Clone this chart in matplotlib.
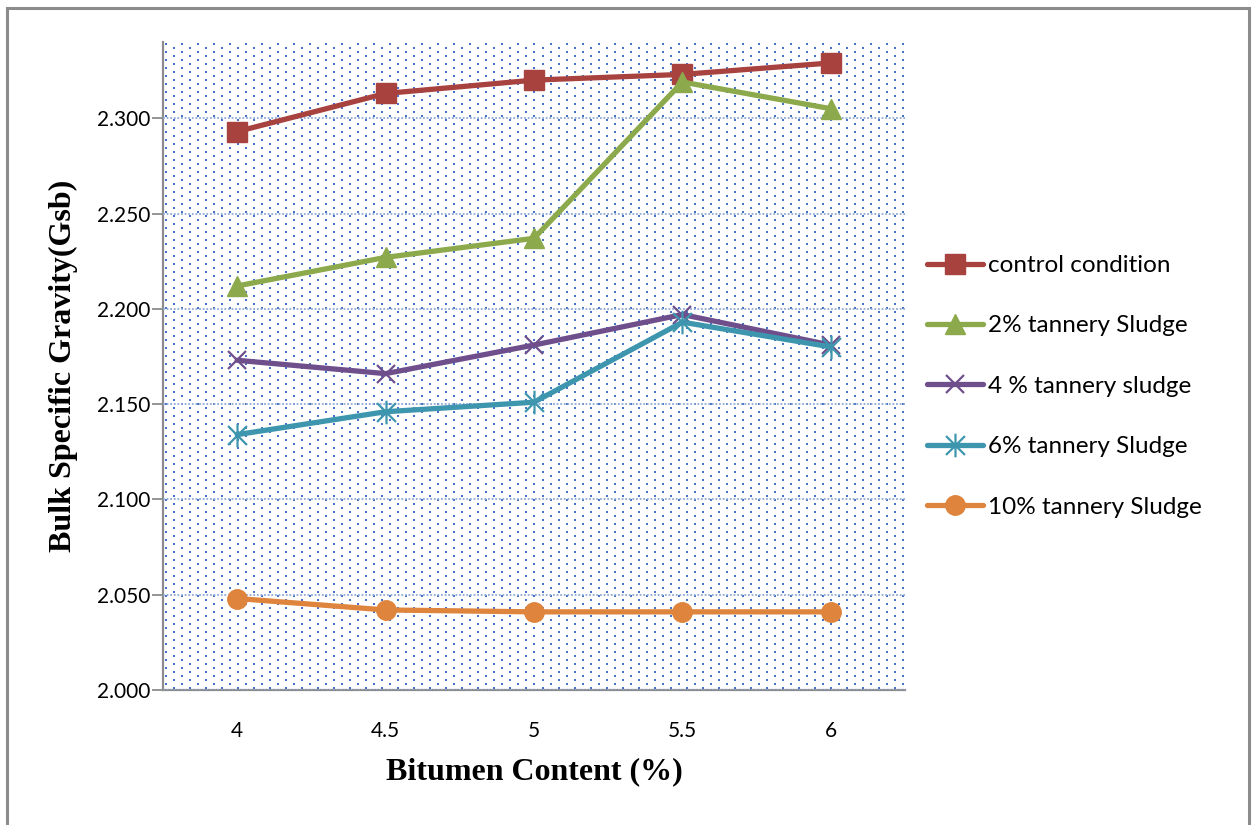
import numpy as np
import matplotlib
matplotlib.use("Agg")
import matplotlib.pyplot as plt
from matplotlib.path import Path
from matplotlib.patches import Rectangle
from matplotlib.ticker import FormatStrFormatter

# Bitumen content categories (%)
bitumen = ["4", "4.5", "5", "5.5", "6"]

# Bulk specific gravity per mix
control = [2.293, 2.313, 2.320, 2.323, 2.329]
sludge_2 = [2.212, 2.227, 2.237, 2.319, 2.305]
sludge_4 = [2.173, 2.166, 2.181, 2.197, 2.181]
sludge_6 = [2.134, 2.146, 2.151, 2.193, 2.180]
sludge_10 = [2.048, 2.042, 2.041, 2.041, 2.041]

series_labels = ["control condition", "2% tannery Sludge", "4 % tannery sludge",
                 "6% tannery Sludge", "10% tannery Sludge"]

W, H, DPI = 1254, 825, 100
fig = plt.figure(figsize=(W / DPI, H / DPI), dpi=DPI)

# outer chart border
fig.patches.append(Rectangle((7 / W, -0.01), (1249 - 7) / W, (H - 8) / H + 0.01,
                             transform=fig.transFigure, fill=False,
                             edgecolor="#8c8c8c", linewidth=2.2))

ax_l, ax_r, ax_t, ax_b = 163, 905, 42, 690
ax = fig.add_axes([ax_l / W, (H - ax_b) / H, (ax_r - ax_l) / W, (ax_b - ax_t) / H])

x = np.arange(len(bitumen))
ymin, ymax = 2.0, 2.34
ax.set_xlim(-0.5, len(bitumen) - 0.5)
ax.set_ylim(ymin, ymax)

# dotted fill pattern of the plot area (10% dot pattern, doubled)
pw, ph = ax_r - ax_l, ax_b - ax_t
pattern = np.ones((ph, pw, 3))
dot = np.array([0x44, 0x72, 0xC4]) / 255.0
for k, r in enumerate(range(1, ph, 4)):
    off = 2 if k % 2 == 0 else 10
    for c in range(off, pw, 16):
        pattern[r:r + 2, c:c + 2] = dot
ax.imshow(pattern, extent=[-0.5, len(bitumen) - 0.5, ymin, ymax],
          aspect="auto", interpolation="nearest", zorder=0)

ax.yaxis.set_major_locator(plt.MultipleLocator(0.05))
ax.yaxis.set_major_formatter(FormatStrFormatter("%.3f"))
ax.grid(axis="y", color="#8fa8d8", linestyle=(0, (1, 1)), linewidth=1.3, zorder=1)
ax.set_axisbelow(False)

# asterisk marker: vertical bar plus two diagonals
ast = Path([(0, -1), (0, 1), (-0.8, -0.8), (0.8, 0.8), (-0.8, 0.8), (0.8, -0.8)],
           [Path.MOVETO, Path.LINETO, Path.MOVETO, Path.LINETO, Path.MOVETO, Path.LINETO])

styles = [
    (control, "#A8423F", "s", 14, 1.0),
    (sludge_2, "#8CA94C", "^", 15, 1.0),
    (sludge_4, "#6E4F8C", "x", 13, 1.6),
    (sludge_6, "#3E96AE", ast, 17, 1.6),
    (sludge_10, "#DE843C", "o", 14, 1.0),
]
for (vals, col, mk, ms, mew), lab in zip(styles, series_labels):
    ax.plot(x, vals, color=col, linewidth=3.8, marker=mk, markersize=ms,
            markerfacecolor=col, markeredgecolor=col, markeredgewidth=mew,
            label=lab, zorder=3, solid_capstyle="round", clip_on=False)

ax.set_xticks(x)
ax.set_xticklabels(bitumen)
ax.tick_params(axis="x", length=0, pad=22, labelsize=15)
ax.tick_params(axis="y", length=8, width=1.3, color="#8c8c8c", pad=1, labelsize=15)
for lab in ax.get_xticklabels() + ax.get_yticklabels():
    lab.set_fontfamily("Lato")

for s in ["top", "right"]:
    ax.spines[s].set_visible(False)
for s in ["left", "bottom"]:
    ax.spines[s].set_color("#8c8c8c")
    ax.spines[s].set_linewidth(1.6)

ax.set_xlabel("Bitumen Content (%)", fontfamily="Liberation Serif", fontweight="bold",
              fontsize=23, labelpad=12)
ax.set_ylabel("Bulk Specific Gravity(Gsb)", fontfamily="Liberation Serif",
              fontweight="bold", fontsize=23, labelpad=14)

leg = fig.legend(loc="upper left", bbox_to_anchor=(927 / W, 1 - 255 / H),
                 frameon=False, prop={"family": "Lato", "size": 17.5},
                 handlelength=2.3, handletextpad=0.2, labelspacing=1.62,
                 borderpad=0, borderaxespad=0)

fig.savefig("out.png", dpi=DPI)
